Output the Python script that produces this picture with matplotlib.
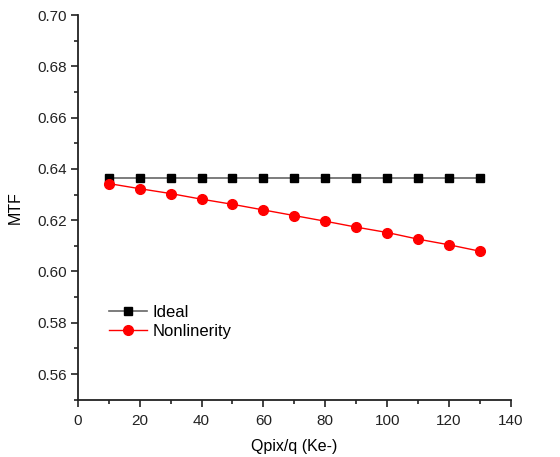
import matplotlib
matplotlib.use('Agg')
import matplotlib.pyplot as plt
from matplotlib.ticker import MultipleLocator

plt.rcParams['font.family'] = ['Liberation Sans', 'DejaVu Sans']

# Data
qpix = [10, 20, 30, 40, 50, 60, 70, 80, 90, 100, 110, 120, 130]
mtf_ideal = [0.6365] * 13
mtf_nonlin = [0.6343, 0.6323, 0.6304, 0.6282, 0.6262, 0.6240, 0.6218,
              0.6196, 0.6173, 0.6152, 0.6126, 0.6104, 0.6079]

fig = plt.figure(figsize=(5.6, 4.57), dpi=100)
ax = fig.add_axes([0.1388, 0.1254, 0.7737, 0.8416])

ax.plot(qpix, mtf_ideal, color='#666666', lw=1.2, marker='s', ms=6,
        mfc='black', mec='black', label='Ideal')
ax.plot(qpix, mtf_nonlin, color='red', lw=1.0, marker='o', ms=7,
        mfc='red', mec='red', label='Nonlinerity')

ax.set_xlim(0, 140)
ax.set_ylim(0.55, 0.70)
ax.xaxis.set_major_locator(MultipleLocator(20))
ax.xaxis.set_minor_locator(MultipleLocator(10))
ax.yaxis.set_major_locator(MultipleLocator(0.02))
ax.yaxis.set_minor_locator(MultipleLocator(0.01))
ax.yaxis.set_major_formatter(plt.FormatStrFormatter('%.2f'))

for side in ['top', 'right']:
    ax.spines[side].set_visible(False)
for side in ['left', 'bottom']:
    ax.spines[side].set_linewidth(1.3)
    ax.spines[side].set_color('#222222')

ax.tick_params(which='major', direction='out', length=5, width=1.2,
               labelsize=11, colors='#222222', pad=3)
ax.tick_params(axis='x', which='major', pad=5)
ax.tick_params(which='minor', direction='out', length=3, width=1.2,
               colors='#222222')

ax.set_xlabel('Qpix/q (Ke-)', fontsize=11.5, labelpad=8)
ax.set_ylabel('MTF', fontsize=11.5, labelpad=10)

ax.legend(loc='center left', bbox_to_anchor=(0.072, 0.202), frameon=False,
          fontsize=12, handlelength=2.3, handletextpad=0.3,
          labelspacing=0.25, borderpad=0, borderaxespad=0)

plt.savefig('out.png', dpi=100)
